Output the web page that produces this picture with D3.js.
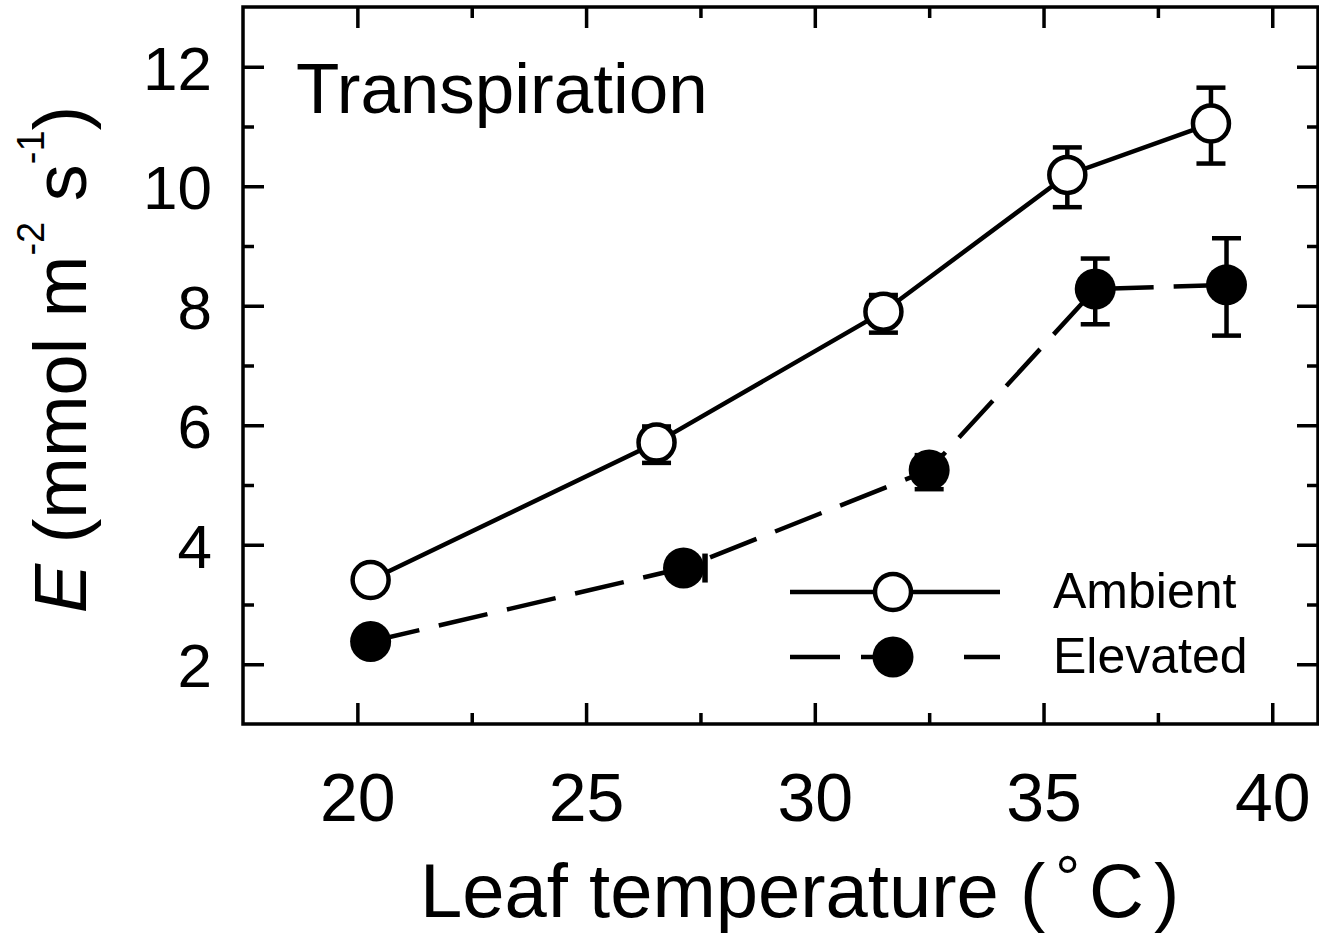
<!DOCTYPE html>
<html><head><meta charset="utf-8">
<script src="https://cdn.jsdelivr.net/npm/d3@7"></script>
<style>body{margin:0;background:#fff}svg{display:block}</style>
</head><body>
<svg id="c" width="1319" height="943"></svg>
<script>
// ---- data ----
const seriesNames = ["Ambient", "Elevated"];
const tempAmbient = [20.29, 26.54, 31.50, 35.52, 38.66];
const eAmbient = [3.41, 5.71, 7.90, 10.19, 11.05];
const errUpAmbient = [0.15, 0.27, 0.28, 0.46, 0.60];
const errDownAmbient = [0.20, 0.34, 0.35, 0.54, 0.67];
const tempElevated = [20.29, 27.13, 32.50, 36.13, 39.00];
const eElevated = [2.38, 3.61, 5.25, 8.28, 8.35];
const errUpElevated = [0.10, 0.10, 0.25, 0.51, 0.78];
const errDownElevated = [0.15, 0.15, 0.32, 0.59, 0.85];
const xErrLeftElevated = [0, 0.2, 0, 0, 0];
const xErrRightElevated = [0, 0.47, 0, 0, 0];
const xTicks = [20, 25, 30, 35, 40];
const xMinorTicks = [22.5, 27.5, 32.5, 37.5];
const yTicks = [2, 4, 6, 8, 10, 12];
const yMinorTicks = [3, 5, 7, 9, 11];
const xDomain = [17.5, 41];
const yDomain = [1, 13];

// ---- layout ----
const L = 243, R = 1318, T = 7, B = 724;
const FONT = "'Liberation Sans', Arial, Helvetica, sans-serif";
const svg = d3.select("#c");
const x = d3.scaleLinear().domain(xDomain).range([L, R]);
const y = d3.scaleLinear().domain(yDomain).range([B, T]);

const MAJ = 21, MIN = 11, TW = 3.5;

svg.append("rect").attr("x", L).attr("y", T).attr("width", R - L).attr("height", B - T)
  .attr("fill", "none").attr("stroke", "#000").attr("stroke-width", TW);

function styleAxis(g) {
  g.select(".domain").remove();
  g.selectAll(".tick line").attr("stroke", "#000").attr("stroke-width", TW);
  g.selectAll("text").attr("font-family", FONT).attr("fill", "#000");
}
const gx = svg.append("g").attr("transform", `translate(0,${B})`)
  .call(d3.axisBottom(x).tickValues(xTicks).tickSize(-MAJ).tickPadding(0).tickFormat(d3.format("d")));
styleAxis(gx);
gx.selectAll("text").attr("dy", null).attr("y", 97).attr("font-size", 68);
svg.append("g").attr("transform", `translate(0,${B})`)
  .call(d3.axisBottom(x).tickValues(xMinorTicks).tickSize(-MIN).tickFormat(""))
  .call(styleAxis);
svg.append("g").attr("transform", `translate(0,${T})`)
  .call(d3.axisTop(x).tickValues(xTicks).tickSize(-MAJ).tickFormat(""))
  .call(styleAxis);
svg.append("g").attr("transform", `translate(0,${T})`)
  .call(d3.axisTop(x).tickValues(xMinorTicks).tickSize(-MIN).tickFormat(""))
  .call(styleAxis);

const gy = svg.append("g").attr("transform", `translate(${L},0)`)
  .call(d3.axisLeft(y).tickValues(yTicks).tickSize(-MAJ).tickPadding(31).tickFormat(d3.format("d")));
styleAxis(gy);
gy.selectAll("text").attr("dy", "0.36em").attr("font-size", 62);
svg.append("g").attr("transform", `translate(${L},0)`)
  .call(d3.axisLeft(y).tickValues(yMinorTicks).tickSize(-MIN).tickFormat(""))
  .call(styleAxis);
svg.append("g").attr("transform", `translate(${R},0)`)
  .call(d3.axisRight(y).tickValues(yTicks).tickSize(-MAJ).tickFormat(""))
  .call(styleAxis);
svg.append("g").attr("transform", `translate(${R},0)`)
  .call(d3.axisRight(y).tickValues(yMinorTicks).tickSize(-MIN).tickFormat(""))
  .call(styleAxis);

// ---- series ----
const ambient = tempAmbient.map((t, i) => ({t, e: eAmbient[i], up: errUpAmbient[i], dn: errDownAmbient[i], xl: 0, xr: 0}));
const elevated = tempElevated.map((t, i) => ({t, e: eElevated[i], up: errUpElevated[i], dn: errDownElevated[i], xl: xErrLeftElevated[i], xr: xErrRightElevated[i]}));

const line = d3.line().x(d => x(d.t)).y(d => y(d.e));
const CAP = 14.5, LW = 4.5, RAD = 18;

function drawSeries(data, dashed, filled) {
  svg.append("path").datum(data).attr("d", line)
    .attr("fill", "none").attr("stroke", "#000").attr("stroke-width", LW)
    .attr("stroke-dasharray", dashed ? "50,20" : null);
  const eb = svg.append("g").attr("stroke", "#000").attr("stroke-width", LW).attr("fill", "none");
  data.forEach(d => {
    const cx = x(d.t), y1 = y(d.e + d.up), y2 = y(d.e - d.dn);
    eb.append("line").attr("x1", cx).attr("x2", cx).attr("y1", y1).attr("y2", y2);
    eb.append("line").attr("x1", cx - CAP).attr("x2", cx + CAP).attr("y1", y1).attr("y2", y1);
    eb.append("line").attr("x1", cx - CAP).attr("x2", cx + CAP).attr("y1", y2).attr("y2", y2);
    if (d.xr > 0) {
      const xa = x(d.t - d.xl), xb = x(d.t + d.xr), cy = y(d.e);
      eb.append("line").attr("x1", xa).attr("x2", xb).attr("y1", cy).attr("y2", cy);
      eb.append("line").attr("x1", xa).attr("x2", xa).attr("y1", cy - CAP).attr("y2", cy + CAP);
      eb.append("line").attr("x1", xb).attr("x2", xb).attr("y1", cy - CAP).attr("y2", cy + CAP)
        .attr("stroke-width", 5.5);
    }
  });
  svg.append("g").selectAll("circle").data(data).join("circle")
    .attr("cx", d => x(d.t)).attr("cy", d => y(d.e))
    .attr("r", filled ? RAD + 2.5 : RAD)
    .attr("fill", filled ? "#000" : "#fff")
    .attr("stroke", filled ? "none" : "#000").attr("stroke-width", LW);
}
drawSeries(ambient, false, false);
drawSeries(elevated, true, true);

// ---- legend ----
const legendRows = [
  {name: seriesNames[0], dashed: false, filled: false, y: 592},
  {name: seriesNames[1], dashed: true, filled: true, y: 657}
];
legendRows.forEach(r => {
  svg.append("line").attr("x1", 790).attr("x2", 1000).attr("y1", r.y).attr("y2", r.y)
    .attr("stroke", "#000").attr("stroke-width", LW)
    .attr("stroke-dasharray", r.dashed ? "50,21,32,71,50" : null);
  svg.append("circle").attr("cx", 893).attr("cy", r.y).attr("r", r.filled ? RAD + 2.5 : RAD)
    .attr("fill", r.filled ? "#000" : "#fff").attr("stroke", r.filled ? "none" : "#000").attr("stroke-width", LW);
  svg.append("text").attr("x", 1053).attr("y", r.y + 16).attr("font-family", FONT)
    .attr("font-size", 50).text(r.name);
});

// ---- titles ----
svg.append("text").attr("x", 296).attr("y", 113).attr("font-family", FONT)
  .attr("font-size", 71).text("Transpiration");

svg.append("text").attr("x", 420).attr("y", 917)
  .attr("font-family", FONT).attr("font-size", 76)
  .call(t => {
    t.append("tspan").text("Leaf temperature (");
    t.append("tspan").attr("font-size", 62).attr("dy", -18).attr("dx", 10).text("°");
    t.append("tspan").attr("dy", 18).attr("dx", 9).text("C");
    t.append("tspan").attr("dx", 10).text(")");
  });

const yt = svg.append("text").attr("transform", `translate(86,${(T + B) / 2 - 6}) rotate(-90)`)
  .attr("text-anchor", "middle").attr("font-family", FONT).attr("font-size", 74);
yt.append("tspan").attr("font-style", "italic").text("E");
yt.append("tspan").text(" (mmol m");
yt.append("tspan").attr("font-size", 38).attr("dy", -42).text("-2");
yt.append("tspan").attr("dy", 42).text(" s");
yt.append("tspan").attr("font-size", 38).attr("dy", -42).text("-1");
yt.append("tspan").attr("dy", 42).text(")");
</script>
</body></html>
